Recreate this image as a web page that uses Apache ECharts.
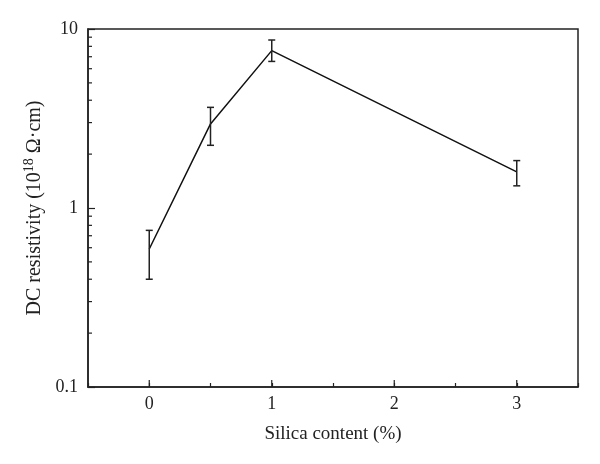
<!DOCTYPE html>
<html>
<head>
<meta charset="utf-8">
<script src="https://cdn.jsdelivr.net/npm/echarts@6/dist/echarts.min.js"></script>
<style>html,body{margin:0;padding:0;background:#fff;}#c{width:600px;height:464px;}</style>
</head>
<body>
<div id="c"></div>
<script>
// Data
const silica = [0, 0.5, 1, 3];
const resistivity = [0.59, 2.95, 7.57, 1.59];
const errLow = [0.40, 2.24, 6.59, 1.33];
const errHigh = [0.75, 3.65, 8.68, 1.84];
const yMinorTicks = [0.2,0.3,0.4,0.5,0.6,0.7,0.8,0.9,2,3,4,5,6,7,8,9];
const xMajorTicks = [0, 1, 2, 3];

const FONT = '"Liberation Serif", "DejaVu Serif", serif';
const INK = '#222';

const chart = echarts.init(document.getElementById('c'));
chart.setOption({
  animation: false,
  backgroundColor: '#fff',
  grid: { left: 88, right: 22, top: 29, bottom: 77, show: true, borderColor: INK, borderWidth: 1.5, backgroundColor: 'transparent' },
  xAxis: {
    type: 'value', min: -0.5, max: 3.5, interval: 0.5,
    name: 'Silica content (%)', nameLocation: 'middle', nameGap: 38,
    nameTextStyle: { fontFamily: FONT, fontSize: 19, color: INK },
    axisLine: { onZero: false, lineStyle: { color: INK, width: 1.5 } },
    axisTick: { inside: true, length: 4, lineStyle: { color: INK, width: 1.2 } },
    splitLine: { show: false },
    axisLabel: { fontFamily: FONT, fontSize: 18, color: INK, margin: 8,
      formatter: v => (Math.abs(v - Math.round(v)) < 1e-9 ? String(Math.round(v)) : '') }
  },
  yAxis: {
    type: 'log', logBase: 10, min: 0.1, max: 10,
    name: '{a|DC resistivity (10}{s|18}{a| Ω·cm)}', nameLocation: 'middle', nameGap: 40,
    nameTextStyle: { fontFamily: FONT, fontSize: 20, color: INK,
      rich: { a: { fontFamily: FONT, fontSize: 20, color: INK },
              s: { fontFamily: FONT, fontSize: 14, color: INK, padding: [0, 0, 10, 0] } } },
    axisLine: { onZero: false, lineStyle: { color: INK, width: 1.5 } },
    axisTick: { inside: true, length: 7, lineStyle: { color: INK, width: 1.2 } },
    splitLine: { show: false },
    axisLabel: { fontFamily: FONT, fontSize: 18, color: INK, margin: 10,
      formatter: v => (v >= 1 ? String(Math.round(v)) : String(v)) }
  },
  series: [
    {
      type: 'line', data: silica.map((x, i) => [x, resistivity[i]]),
      showSymbol: false, symbol: 'none',
      lineStyle: { color: '#111', width: 1.5 }, z: 3
    },
    {
      type: 'custom', z: 4,
      data: silica.map((x, i) => [x, errLow[i], errHigh[i]]),
      renderItem: (params, api) => {
        const lo = api.coord([api.value(0), api.value(1)]);
        const hi = api.coord([api.value(0), api.value(2)]);
        const w = 3.5;
        const st = { stroke: '#222', lineWidth: 1.5 };
        return { type: 'group', children: [
          { type: 'line', shape: { x1: lo[0], y1: lo[1], x2: hi[0], y2: hi[1] }, style: st },
          { type: 'line', shape: { x1: lo[0]-w, y1: lo[1], x2: lo[0]+w, y2: lo[1] }, style: st },
          { type: 'line', shape: { x1: hi[0]-w, y1: hi[1], x2: hi[0]+w, y2: hi[1] }, style: st }
        ]};
      }
    },
    {
      type: 'custom', z: 4, silent: true,
      data: yMinorTicks.map(v => [-0.5, v]),
      renderItem: (params, api) => {
        const p = api.coord([api.value(0), api.value(1)]);
        return { type: 'line', shape: { x1: p[0], y1: p[1], x2: p[0] + 4, y2: p[1] },
          style: { stroke: INK, lineWidth: 1.2 } };
      }
    },
    {
      type: 'custom', z: 4, silent: true,
      data: xMajorTicks.map(v => [v, 0.1]),
      renderItem: (params, api) => {
        const p = api.coord([api.value(0), api.value(1)]);
        return { type: 'line', shape: { x1: p[0], y1: p[1], x2: p[0], y2: p[1] - 7 },
          style: { stroke: INK, lineWidth: 1.2 } };
      }
    }
  ]
});
</script>
</body>
</html>
